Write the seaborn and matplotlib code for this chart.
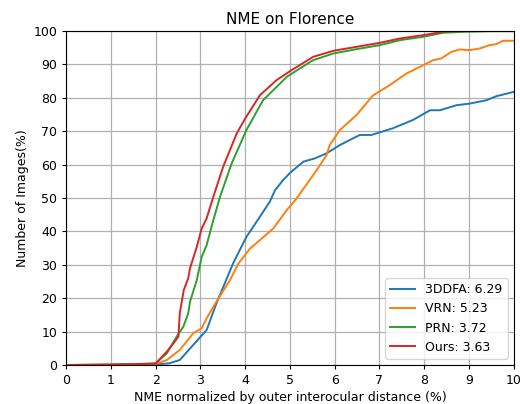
import matplotlib
matplotlib.use("Agg")
import matplotlib.pyplot as plt
import numpy as np
import pandas as pd
import seaborn as sns

# values (NME %, percentage of images)
x_3ddfa = [0, 1.0, 2.0, 2.3, 2.54, 2.84, 3.14, 3.36, 3.73, 4.03, 4.33, 4.55, 4.67, 4.85,
           5.0, 5.30, 5.56, 5.82, 6.12, 6.56, 6.82, 7.30, 7.75, 8.13, 8.35, 8.72, 9.02,
           9.39, 9.61, 10.0]
y_3ddfa = [0, 0, 0.2, 0.5, 1.5, 6, 10.5, 18.5, 30.4, 38.4, 44.4, 48.9, 52.4, 55.4,
           57.5, 60.9, 61.9, 63.4, 65.9, 68.9, 68.9, 70.9, 73.4, 76.3, 76.3, 77.8, 78.3,
           79.3, 80.5, 81.8]

x_vrn = [0, 1.0, 2.0, 2.25, 2.54, 2.84, 3.03, 3.14, 3.36, 3.66, 3.85, 4.11, 4.33, 4.63,
         4.93, 5.15, 5.60, 5.82, 5.89, 6.12, 6.49, 6.86, 7.23, 7.60, 7.98, 8.20, 8.38,
         8.61, 8.79, 9.02, 9.24, 9.46, 9.61, 9.76, 10.0]
y_vrn = [0, 0.2, 0.3, 1.5, 4.5, 9.5, 11, 14, 19, 25.4, 30.4, 34.9, 37.4, 40.9,
         46.4, 49.9, 58.4, 62.9, 65.9, 70.4, 74.9, 80.8, 83.8, 87.3, 89.8, 91.3, 91.8,
         93.8, 94.5, 94.3, 94.8, 95.8, 96.1, 97.1, 97.1]

x_prn = [0, 1.0, 2.0, 2.25, 2.47, 2.62, 2.73, 2.77, 2.92, 3.03, 3.14, 3.29, 3.44, 3.70,
         4.03, 4.40, 4.93, 5.22, 5.52, 5.97, 6.49, 7.01, 7.46, 7.98, 8.42, 8.9, 9.5, 10.0]
y_prn = [0, 0.1, 0.5, 3.5, 8.5, 11.5, 15.5, 19, 25.4, 32.4, 35.9, 43.4, 50.4, 60.4,
         70.4, 79.3, 86.3, 88.8, 91.3, 93.3, 94.6, 95.8, 97.3, 98.3, 99.5, 99.8, 100, 100]

x_ours = [0, 1.0, 2.0, 2.25, 2.40, 2.51, 2.54, 2.63, 2.73, 2.77, 2.92, 3.03, 3.14, 3.29,
          3.51, 3.81, 4.00, 4.33, 4.70, 5.07, 5.22, 5.52, 5.97, 6.49, 7.01, 7.46, 7.98,
          8.42, 8.6, 10.0]
y_ours = [0, 0.1, 0.4, 4, 6.5, 8.5, 15.5, 22.5, 26, 29, 35.4, 40.9, 43.9, 50.4,
          59.4, 69.3, 73.8, 80.8, 85.3, 88.6, 89.8, 92.3, 94.1, 95.3, 96.5, 97.8, 98.8,
          99.8, 100, 100]

labels = ["3DDFA: 6.29", "VRN: 5.23", "PRN: 3.72", "Ours: 3.63"]
series = [(x_3ddfa, y_3ddfa), (x_vrn, y_vrn), (x_prn, y_prn), (x_ours, y_ours)]
colors = ["#1f77b4", "#ff7f0e", "#2ca02c", "#d62728"]

plt.rcParams["font.size"] = 9
plt.rcParams["xtick.major.size"] = 3.2
plt.rcParams["ytick.major.size"] = 3.2
plt.rcParams["xtick.major.pad"] = 3
plt.rcParams["ytick.major.pad"] = 3
plt.rcParams["axes.labelpad"] = 3

fig = plt.figure(figsize=(5.2, 4.04), dpi=100)
ax = fig.add_axes([0.127, 0.0965, 0.861, 0.8265])

for (xs, ys), lab, c in zip(series, labels, colors):
    df = pd.DataFrame({"x": xs, "y": ys})
    sns.lineplot(data=df, x="x", y="y", ax=ax, color=c, label=lab, sort=False,
                 linewidth=1.4, legend=False)

ax.set_xlim(0, 10)
ax.set_ylim(0, 100)
ax.set_xticks(np.arange(0, 11, 1))
ax.set_yticks(np.arange(0, 101, 10))
ax.grid(True, color="#b0b0b0", linewidth=0.9)
ax.set_axisbelow(True)
ax.set_title("NME on Florence", fontsize=11, pad=5)
ax.set_xlabel("NME normalized by outer interocular distance (%)")
ax.set_ylabel("Number of Images(%)")
ax.legend(loc="lower right")

fig.savefig("out.png", dpi=100)
